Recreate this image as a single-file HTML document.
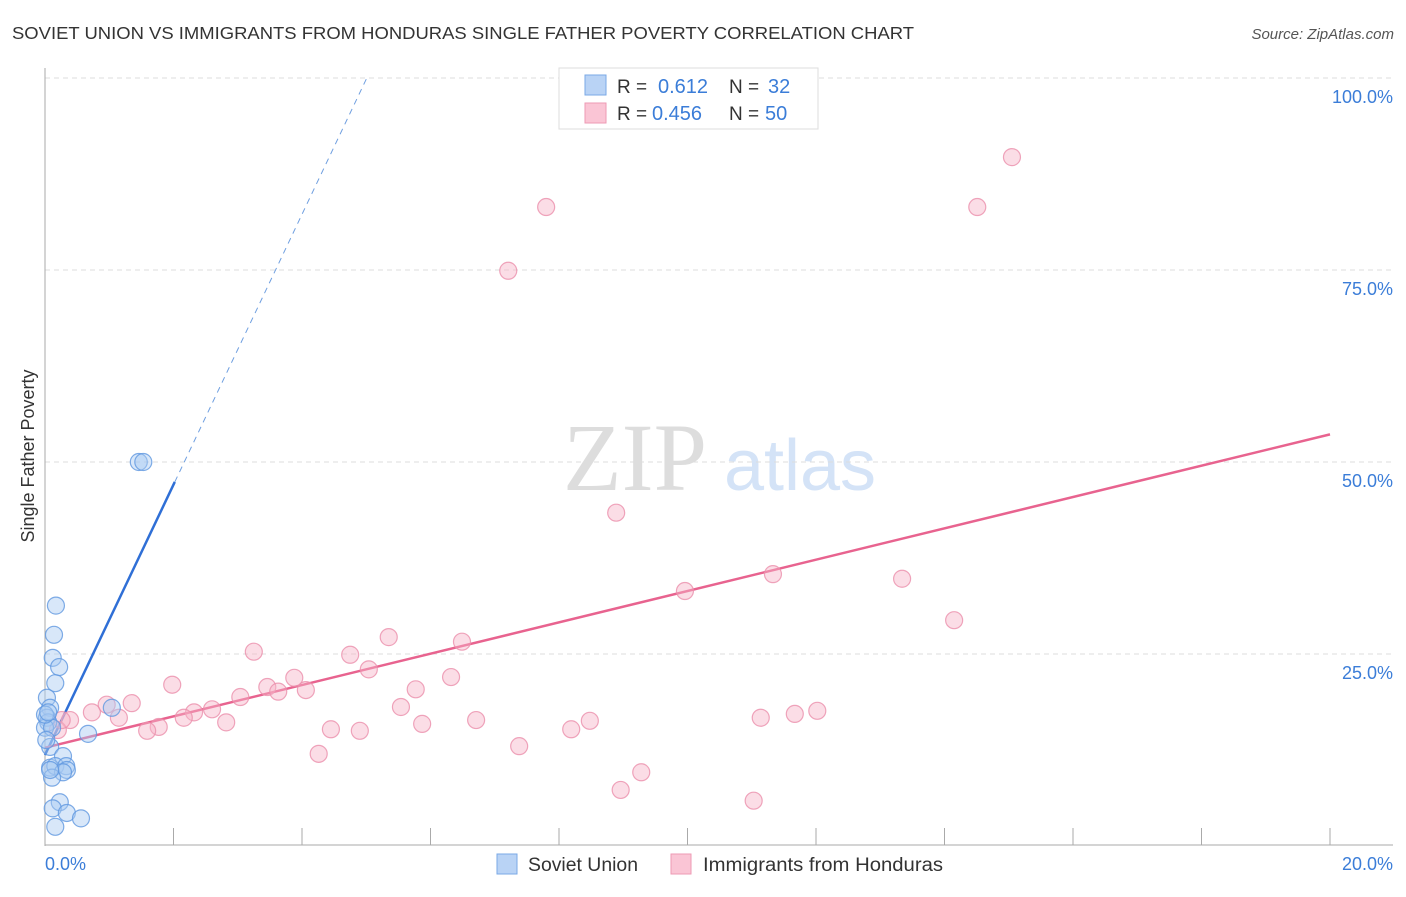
<!DOCTYPE html>
<html><head><meta charset="utf-8"><style>
body{margin:0;background:#fff;font-family:"Liberation Sans",sans-serif;}
svg text{font-family:"Liberation Sans",sans-serif;}
</style></head><body>
<svg id="chart" width="1406" height="892" xmlns="http://www.w3.org/2000/svg">
<text x="12" y="39" font-size="17.5" fill="#333" textLength="902" lengthAdjust="spacingAndGlyphs">SOVIET UNION VS IMMIGRANTS FROM HONDURAS SINGLE FATHER POVERTY CORRELATION CHART</text>
<text x="1394" y="39" font-size="15" fill="#555" font-style="italic" text-anchor="end">Source: ZipAtlas.com</text>
<text transform="translate(34,456) rotate(-90)" font-size="18" fill="#333" text-anchor="middle">Single Father Poverty</text>
<g>
<text x="635" y="490" font-size="96" fill="#ddd" text-anchor="middle" style="font-family:'Liberation Serif',serif">ZIP</text>
<text x="800" y="490" font-size="72" fill="#d4e3f7" text-anchor="middle">atlas</text>
</g>
<g id="grid"></g>
<g id="axes"></g>
<g id="lines"></g>
<g id="points"></g>
<g>
<rect x="559" y="68" width="259" height="61" fill="#fff" stroke="#ddd"/>
<rect x="585" y="75" width="21" height="20" fill="#b9d3f5" stroke="#7aa8e6"/>
<rect x="585" y="103" width="21" height="20" fill="#fac5d5" stroke="#ee9ab4"/>
<text x="617" y="93" font-size="19" fill="#333">R = </text><text x="658" y="93" font-size="20" fill="#3b7dd8">0.612</text>
<text x="729" y="93" font-size="19" fill="#333">N = </text><text x="768" y="93" font-size="20" fill="#3b7dd8">32</text>
<text x="617" y="120" font-size="19" fill="#333">R = </text><text x="652" y="120" font-size="20" fill="#3b7dd8">0.456</text>
<text x="729" y="120" font-size="19" fill="#333">N = </text><text x="765" y="120" font-size="20" fill="#3b7dd8">50</text>
</g>
<g>
<rect x="497" y="854" width="20" height="20" fill="#b9d3f5" stroke="#7aa8e6"/>
<text x="528" y="871" font-size="19" fill="#333" textLength="110" lengthAdjust="spacingAndGlyphs">Soviet Union</text>
<rect x="671" y="854" width="20" height="20" fill="#fac5d5" stroke="#ee9ab4"/>
<text x="703" y="871" font-size="19" fill="#333" textLength="240" lengthAdjust="spacingAndGlyphs">Immigrants from Honduras</text>
</g>
</svg>
<script>
const yTicks=[25,50,75,100];
const yTickLabels=["25.0%","50.0%","75.0%","100.0%"];
const xTickValues=[2,4,6,8,10,12,14,16,18,20];
const sovietX=[0.17,0.14,0.12,0.22,0.16,0.03,0.08,0.03,0.05,0.0,0.11,0.08,0.28,0.08,0.16,0.33,0.34,0.28,0.11,0.23,0.12,0.34,0.56,0.16,1.04,1.46,1.53,0.67,0.0,0.05,0.08,0.02];
const sovietY=[31.3,27.5,24.5,23.3,21.2,19.3,18.0,16.7,16.1,15.4,15.4,12.9,11.7,10.2,10.4,10.4,9.9,9.6,8.9,5.7,4.9,4.3,3.6,2.5,18.0,50.0,50.0,14.6,17.1,17.4,9.9,13.8];
const hondX=[15.05,14.51,7.80,7.21,8.89,11.33,9.96,13.34,14.15,5.35,6.49,3.25,4.75,5.04,6.32,1.98,3.88,3.46,3.63,4.06,3.04,5.77,1.35,0.96,0.73,2.60,2.32,2.16,1.15,5.54,2.82,6.71,5.87,8.48,11.14,11.67,12.02,4.45,4.90,1.77,1.59,8.19,4.26,7.38,9.28,8.96,11.03,0.39,0.20,0.26];
const hondY=[89.7,83.2,83.2,74.9,43.4,35.4,33.2,34.8,29.4,27.2,26.6,25.3,24.9,23.0,22.0,21.0,21.9,20.7,20.1,20.3,19.4,20.4,18.6,18.4,17.4,17.8,17.4,16.7,16.7,18.1,16.1,16.4,15.9,16.3,16.7,17.2,17.6,15.2,15.0,15.5,15.0,15.2,12.0,13.0,9.6,7.3,5.9,16.4,15.1,16.4];
const sovietTrend=[11.85,17.6];
const hondTrend=[12.8,2.04];

const NS="http://www.w3.org/2000/svg";
const X=v=>45+v*64.25, Y=v=>846-v*7.68;
function mk(t,a,p){const e=document.createElementNS(NS,t);for(const k in a)e.setAttribute(k,a[k]);p.appendChild(e);return e;}
const grid=document.getElementById('grid'),axes=document.getElementById('axes'),lines=document.getElementById('lines'),pts=document.getElementById('points');
yTicks.forEach((t,i)=>{
 const l=mk('line',{x1:45,x2:1393,y1:Y(t),y2:Y(t),stroke:'#ddd','stroke-dasharray':'5,4'},grid);
 
 
 const tx=mk('text',{x:1393,y:Y(t)+25,'font-size':18,fill:'#3b7dd8','text-anchor':'end'},axes);
 tx.textContent=yTickLabels[i];
 
 
});
const ya=mk('line',{x1:45,x2:45,y1:68,y2:846,stroke:'#aaa'},axes);


const xa=mk('line',{x1:45,x2:1393,y1:845,y2:845,stroke:'#aaa'},axes);


xTickValues.forEach(v=>{const t=mk('line',{x1:X(v),x2:X(v),y1:828,y2:845,stroke:'#aaa'},axes);
 
 });
[[0,"0.0%",45,'start'],[20,"20.0%",1393,'end']].forEach(a=>{const t=mk('text',{x:a[2],y:870,'font-size':18,fill:'#3b7dd8','text-anchor':a[3]},axes);t.textContent=a[1];
 
 });
function circles(xs,ys,fill,stroke,name){xs.forEach((x,i)=>{const c=mk('circle',{cx:X(x),cy:Y(ys[i]),r:8.5,fill:fill,'fill-opacity':0.45,stroke:stroke,'stroke-opacity':0.8,'stroke-width':1.2},pts);
 
 });}
circles(hondX,hondY,'#f7b3c8','#eb8fab','point-honduras');
circles(sovietX,sovietY,'#a9c9f2','#5f97e0','point-soviet-union');
const sx1=(47.4-sovietTrend[0])/sovietTrend[1], sx2=(100-sovietTrend[0])/sovietTrend[1];
const bl=mk('line',{x1:X(0),y1:Y(sovietTrend[0]),x2:X(sx1),y2:Y(sovietTrend[0]+sovietTrend[1]*sx1),stroke:'#2f6fd6','stroke-width':2.5},lines);


const bd=mk('line',{x1:X(sx1),y1:Y(sovietTrend[0]+sovietTrend[1]*sx1),x2:X(sx2),y2:Y(100),stroke:'#6f9fe0','stroke-width':1,'stroke-dasharray':'6,5'},lines);


const pl=mk('line',{x1:X(0),y1:Y(hondTrend[0]),x2:X(20),y2:Y(hondTrend[0]+hondTrend[1]*20),stroke:'#e8638f','stroke-width':2.5},lines);


</script>
</body></html>
